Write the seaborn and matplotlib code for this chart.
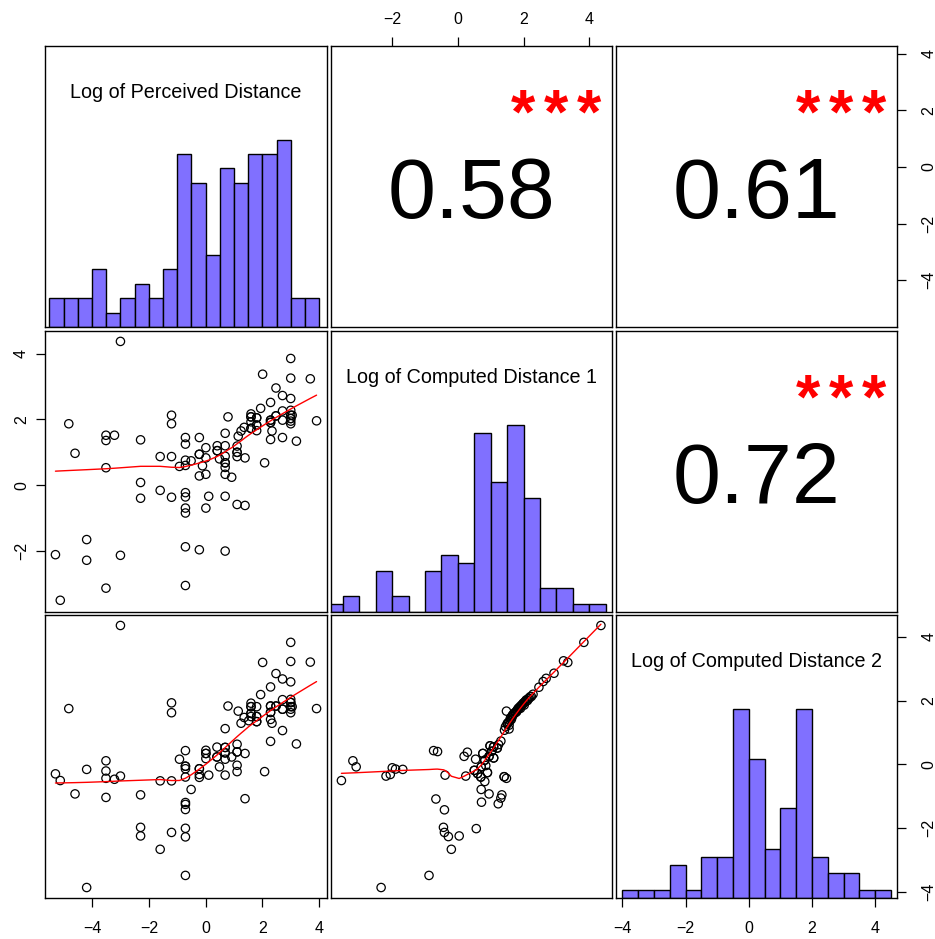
import numpy as np
import pandas as pd
import seaborn as sns
import matplotlib
matplotlib.use("Agg")
import matplotlib.pyplot as plt

# =====================================================
# data
# =====================================================

VAR_NAMES = [
    "Log of Perceived Distance",
    "Log of Computed Distance 1",
    "Log of Computed Distance 2",
]

# panel row 2 / col 1 : perceived vs computed 1
perc_a = [-3.00, 3.00, 2.01, 3.00, 3.69, 2.48, 2.71, 3.00, 2.29, 1.94,
          1.60, 0.79, 1.60, 1.80, 2.48, 2.71, 3.00, 3.00, 3.00, 3.00,
          3.00, 2.71, 2.29, 2.29, 3.91, 1.60, 1.80, 1.36, 1.60, 1.80,
          1.25, 1.15, 0.69, 2.34, 2.29, 2.71, 3.20, -4.82, -1.20, -1.20,
          -3.51, -3.21, -3.51, -2.29, -0.71, -0.22, -0.71, 0.41, 0.69, 1.11,
          0.01, 0.41, 1.11, -4.60, -1.60, -1.20, -0.22, 0.01, 0.49, 0.69,
          1.11, 1.39, -0.71, -0.51, -0.92, -0.71, -0.11, 0.69, 0.69, 2.08,
          -3.51, -0.22, 0.01, 0.69, 0.92, -2.29, -1.60, -0.71, -0.71, -2.29,
          -1.20, 0.11, 0.69, 1.11, 1.39, -0.71, -0.71, 0.01, -4.19, -5.29,
          -4.19, -3.00, -0.71, -0.22, 0.69, -3.51, -0.71, -5.12,
          # overlapping circles
          -0.22, 0.41, 0.69, 1.11, 1.60, 1.80, 1.60, 1.80, 2.29, 2.48,
          2.29, 3.00, 3.05]
comp1_a = [4.38, 3.86, 3.38, 3.26, 3.24, 2.96, 2.73, 2.64, 2.52, 2.34,
           2.17, 2.08, 2.08, 2.05, 2.11, 2.26, 2.28, 2.13, 2.03, 1.95,
           1.87, 1.98, 1.98, 1.91, 1.96, 1.93, 1.83, 1.76, 1.73, 1.66,
           1.65, 1.49, 1.58, 1.65, 1.39, 1.45, 1.34, 1.87, 2.13, 1.87,
           1.52, 1.52, 1.36, 1.38, 1.45, 1.45, 1.25, 1.20, 1.20, 1.19,
           1.14, 1.05, 1.00, 0.97, 0.87, 0.87, 0.94, 0.83, 0.80, 0.88,
           0.87, 0.83, 0.76, 0.74, 0.57, 0.60, 0.59, 0.68, 0.54, 0.68,
           0.53, 0.28, 0.33, 0.33, 0.24, 0.08, -0.16, -0.23, -0.36, -0.40,
           -0.37, -0.34, -0.34, -0.59, -0.62, -0.70, -0.85, -0.70, -1.66, -2.12,
           -2.29, -2.14, -1.88, -1.97, -2.01, -3.14, -3.06, -3.51,
           0.94, 1.05, 0.68, 1.00, 2.08, 1.83, 1.73, 2.05, 1.98, 2.11,
           1.91, 2.03, 2.13]

# panel row 3 / col 1 : perceived vs computed 2
perc_b = [-3.00, 3.00, 2.01, 3.00, 3.69, 2.48, 2.71, 3.00, 2.29, 1.94,
          0.79, 1.60, 1.60, 1.80, 2.29, 2.48, 2.71, 3.00, 3.00, 3.00,
          3.00, 3.00, 2.71, 3.91, 1.15, 1.36, 1.60, 1.60, 1.80, 1.80,
          1.52, 1.25, 2.29, 2.29, 2.34, 0.69, 2.71, 2.29, 3.20, -4.82,
          -1.20, -1.20, -0.71, 0.01, 0.01, 0.40, 0.69, 1.11, 1.39, 0.01,
          0.40, 0.69, 0.69, 0.92, 1.11, -0.92, -3.51, -4.19, -3.51, -5.29,
          -5.12, -3.51, -3.21, -3.00, -0.71, -0.71, -0.22, -0.22, -0.22, 0.11,
          0.49, 0.69, 1.11, 1.11, 2.08, -1.60, -1.20, -0.71, -0.51, -4.60,
          -3.51, -2.29, -0.71, -0.71, -0.71, 1.39, -2.29, -2.29, -1.20, -0.71,
          -0.71, -1.60, -0.71, -4.19,
          # overlapping circles
          -0.22, 0.01, 0.40, 0.69, 1.11, 1.60, 1.80, 1.60, 1.80, 2.29,
          2.48, 2.29, 3.00, 3.05, -0.71, 2.71, 0.69]
comp2_b = [4.36, 3.83, 3.20, 3.23, 3.21, 2.85, 2.68, 2.59, 2.43, 2.19,
           1.83, 1.92, 1.81, 1.81, 1.83, 1.83, 2.03, 2.04, 1.94, 1.81,
           1.73, 1.62, 1.73, 1.75, 1.67, 1.47, 1.60, 1.50, 1.50, 1.34,
           1.37, 1.29, 1.63, 1.41, 1.29, 1.12, 1.06, 0.72, 0.64, 1.75,
           1.93, 1.62, 0.43, 0.44, 0.34, 0.54, 0.53, 0.63, 0.34, 0.18,
           0.23, 0.36, 0.16, 0.23, 0.39, 0.16, 0.11, -0.16, -0.21, -0.30,
           -0.51, -0.44, -0.47, -0.37, -0.06, -0.14, -0.14, -0.32, -0.41, -0.34,
           -0.08, -0.34, -0.03, -0.23, -0.23, -0.52, -0.52, -0.40, -0.79, -0.93,
           -1.04, -0.96, -1.20, -1.26, -1.42, -1.08, -1.98, -2.25, -2.14, -2.01,
           -2.28, -2.67, -3.49, -3.87,
           -0.14, 0.34, 0.23, 0.36, 0.39, 1.60, 1.50, 1.81, 1.34, 1.83,
           1.83, 1.63, 1.94, 1.81, -0.06, 1.73, 0.53]

# panel row 3 / col 2 : computed 1 vs computed 2
comp1_c = [4.36, 3.84, 3.22, 3.35, 2.93, 2.69, 2.60, 2.47, 2.29, 2.17,
           2.05, 1.94, 1.84, 1.76, 1.66, 1.59, 1.56, 1.48, 1.42, 1.56,
           1.31, 1.24, 1.20, 1.09, 0.98, 1.03, 1.09, 0.76, 0.95, 0.82,
           0.85, 0.71, 0.54, 0.29, 0.19, -0.74, -0.62, -3.20, -3.10, -3.55,
           -2.19, -2.06, -2.00, -1.90, -1.68, -0.39, 0.24, 0.50, 0.60, 0.70,
           0.90, 0.82, 1.41, 1.48, 1.34, 1.31, 1.23, 0.71, 0.95, 0.72,
           -0.67, -0.41, -0.44, -0.41, -0.29, 0.04, 0.56, -0.20, -0.88, -2.34,
           1.71, 1.81, 1.89, 1.99, 2.12, 2.24, 2.02, 1.91, 1.79, 1.67,
           1.63, 1.51,
           # overlapping circles
           1.60, 1.65, 1.70, 1.75, 1.80, 1.86, 1.92, 1.97, 2.03, 2.08,
           2.14, 2.20, 1.55, 1.50, 1.45, 0.98, 1.09, 0.95, 0.82, 0.71,
           0.60, 0.90, 1.09, 0.76, 1.03, 1.20, 0.50, 0.70, 1.41]
comp2_c = [4.36, 3.83, 3.25, 3.20, 2.86, 2.70, 2.60, 2.42, 2.20, 2.07,
           1.97, 1.86, 1.76, 1.64, 1.50, 1.37, 1.23, 1.67, 1.07, 1.11,
           0.73, 0.62, 0.51, 0.55, 0.58, 0.41, 0.20, 0.34, 0.25, 0.13,
           -0.04, -0.08, 0.16, 0.38, 0.25, 0.43, 0.40, 0.11, -0.08, -0.51,
           -0.37, -0.32, -0.11, -0.15, -0.16, -0.34, -0.37, -0.19, -0.29, -0.40,
           -0.26, -0.54, -0.39, -0.44, -0.96, -1.06, -1.24, -0.79, -0.93, -1.19,
           -1.09, -1.43, -1.98, -2.14, -2.27, -2.25, -2.02, -2.67, -3.49, -3.87,
           1.60, 1.71, 1.81, 1.92, 2.00, 2.13, 1.86, 1.76, 1.65, 1.55,
           1.41, 1.29,
           1.45, 1.52, 1.58, 1.62, 1.68, 1.74, 1.82, 1.88, 1.95, 2.02,
           2.06, 2.12, 1.33, 1.26, 1.18, 0.58, 0.20, 0.25, 0.13, -0.08,
           -0.29, -0.26, 0.55, 0.34, 0.41, 0.51, -0.19, -0.40, -0.39]

# histogram counts (bin width 0.5)
perc_bin_start = -5.5
perc_counts = [2, 2, 2, 4, 1, 2, 3, 2, 4, 12, 10, 5, 11, 10, 12, 12, 13, 2, 2]
comp1_bin_start = -4.0
comp1_counts = [1, 2, 0, 5, 2, 0, 5, 7, 6, 22, 16, 23, 14, 3, 3, 1, 1]
comp2_bin_start = -4.0
comp2_counts = [1, 1, 1, 4, 1, 5, 5, 23, 17, 6, 11, 23, 5, 3, 3, 1, 1]

# correlations (upper panels)
corr_text = {(0, 1): "0.58", (0, 2): "0.61", (1, 2): "0.72"}
corr_stars = {(0, 1): "***", (0, 2): "***", (1, 2): "***"}

BIN_W = 0.5
HIST_COLOR = "#8070FF"


# =====================================================
# helpers
# =====================================================

def lowess(x, y, f=2 / 3, iters=3):
    x = np.asarray(x, float)
    y = np.asarray(y, float)
    order = np.argsort(x, kind="mergesort")
    x = x[order]
    y = y[order]
    n = len(x)
    r = max(min(int(round(f * n)), n), 2)
    robust = np.ones(n)
    yest = np.zeros(n)
    for it in range(iters + 1):
        for i in range(n):
            dist = np.abs(x - x[i])
            h = np.sort(dist)[r - 1]
            u = np.clip(dist / max(h, 1e-12), 0, 1)
            w = (1 - u ** 3) ** 3 * robust
            sw = w.sum()
            xm = (w * x).sum() / sw
            ym = (w * y).sum() / sw
            sxx = (w * (x - xm) ** 2).sum()
            b = (w * (x - xm) * (y - ym)).sum() / sxx if sxx > 1e-12 else 0.0
            yest[i] = ym + b * (x[i] - xm)
        res = y - yest
        s = np.median(np.abs(res))
        if s < 1e-12:
            break
        u = np.clip(res / (6 * s), -1, 1)
        robust = (1 - u ** 2) ** 2
    return x, yest


def pad_range(vals):
    lo, hi = min(vals), max(vals)
    ext = 0.04 * (hi - lo)
    return lo - ext, hi + ext


# =====================================================
# figure
# =====================================================

sns.set_theme(style="white")
plt.rcParams["font.family"] = ["Liberation Sans", "DejaVu Sans"]

W, H = 935, 939
fig = plt.figure(figsize=(W / 100, H / 100), dpi=100)

col_px = [(45, 327), (331, 612), (616, 897)]
row_px = [(46, 327), (331, 612), (615, 898)]

lims = [
    pad_range(perc_a + perc_b),
    pad_range(comp1_a + comp1_c),
    pad_range(comp2_b + comp2_c),
]

axes = {}
for r in range(3):
    for c in range(3):
        x0, x1 = col_px[c]
        y0, y1 = row_px[r]
        ax = fig.add_axes([x0 / W, 1 - y1 / H, (x1 - x0) / W, (y1 - y0) / H])
        ax.set_xlim(*lims[c])
        ax.set_ylim(*lims[r])
        ax.set_xticks([])
        ax.set_yticks([])
        for sp in ax.spines.values():
            sp.set_visible(True)
            sp.set_color("black")
            sp.set_linewidth(1.0)
        ax.set_facecolor("white")
        axes[(r, c)] = ax

# ---------------- scatter panels ----------------
scatter_sets = {
    (1, 0): (perc_a, comp1_a),
    (2, 0): (perc_b, comp2_b),
    (2, 1): (comp1_c, comp2_c),
}

for key, (xs, ys) in scatter_sets.items():
    ax = axes[key]
    sns.scatterplot(
        x=xs, y=ys, ax=ax,
        s=36, marker="o",
        fc="none", ec="black", linewidth=0.9,
        legend=False
    )
    lx, ly = lowess(xs, ys)
    sns.lineplot(
        x=lx, y=ly, ax=ax,
        color="red", linewidth=1.0,
        estimator=None, sort=False, legend=False
    )
    ax.set_xlim(*lims[key[1]])
    ax.set_ylim(*lims[key[0]])

# ---------------- histograms ----------------
hist_sets = [
    (perc_bin_start, perc_counts),
    (comp1_bin_start, comp1_counts),
    (comp2_bin_start, comp2_counts),
]

for i, (start, counts) in enumerate(hist_sets):
    ax = axes[(i, i)]
    counts = np.asarray(counts, float)
    edges = start + BIN_W * np.arange(len(counts) + 1)
    hist_df = pd.DataFrame({
        "value": (edges[:-1] + edges[1:]) / 2,
        "share": counts / counts.max(),
    })
    sns.histplot(
        data=hist_df, x="value", weights="share", bins=edges.tolist(), ax=ax,
        color=HIST_COLOR, edgecolor="black", linewidth=1.0, alpha=1.0,
        legend=False
    )
    ax.set_xlim(*lims[i])
    ax.set_ylim(0, 1.5)
    ax.set_ylabel("")
    ax.set_xlabel("")
    ax.set_yticks([])
    ax.text(0.5, 0.835, VAR_NAMES[i], transform=ax.transAxes,
            ha="center", va="center", fontsize=14.2, color="black")

# ---------------- correlation text ----------------
STAR_STEP = 0.1175
for key, txt in corr_text.items():
    ax = axes[key]
    ax.text(0.5, 0.465, txt, transform=ax.transAxes,
            ha="center", va="center", fontsize=62, color="black")
    n_st = len(corr_stars[key])
    for k, ch in enumerate(corr_stars[key]):
        ax.text(0.8 + (k - (n_st - 1) / 2) * STAR_STEP, 0.752, ch,
                transform=ax.transAxes, ha="center", va="center",
                fontsize=45, fontweight="bold", color="red")

# ---------------- outer axes ----------------
tick_kw = dict(direction="out", length=6.5, width=0.9, labelsize=11.5,
               color="black", labelcolor="black")

# bottom of columns 1 and 3
for c in (0, 2):
    ax = axes[(2, c)]
    ax.set_xticks([-4, -2, 0, 2, 4])
    ax.tick_params(axis="x", bottom=True, pad=10, **tick_kw)

# top of column 2
ax = axes[(0, 1)]
ax.set_xticks([-2, 0, 2, 4])
ax.tick_params(axis="x", top=True, bottom=False, labeltop=True,
               labelbottom=False, pad=7.5, **tick_kw)

# left of row 2
ax = axes[(1, 0)]
ax.set_yticks([-2, 0, 2, 4])
ax.tick_params(axis="y", left=True, pad=5, **tick_kw)
for lab in ax.get_yticklabels():
    lab.set_rotation(90)
    lab.set_va("center")

# right of row 1
ax = axes[(0, 2)]
ax.set_yticks([-4, -2, 0, 2, 4])
ax.tick_params(axis="y", right=True, left=False, labelright=True,
               labelleft=False, pad=11, **tick_kw)
for lab in ax.get_yticklabels():
    lab.set_rotation(90)
    lab.set_va("center")

# right of row 3 (histogram panel, separate scale)
ax = axes[(2, 2)]
twin = ax.twinx()
twin.set_ylim(*lims[2])
twin.set_yticks([-4, -2, 0, 2, 4])
twin.tick_params(axis="y", right=True, labelright=True, pad=11, **tick_kw)
for sp in twin.spines.values():
    sp.set_visible(False)
for lab in twin.get_yticklabels():
    lab.set_rotation(90)
    lab.set_va("center")

fig.savefig("out.png", dpi=100, facecolor="white")
